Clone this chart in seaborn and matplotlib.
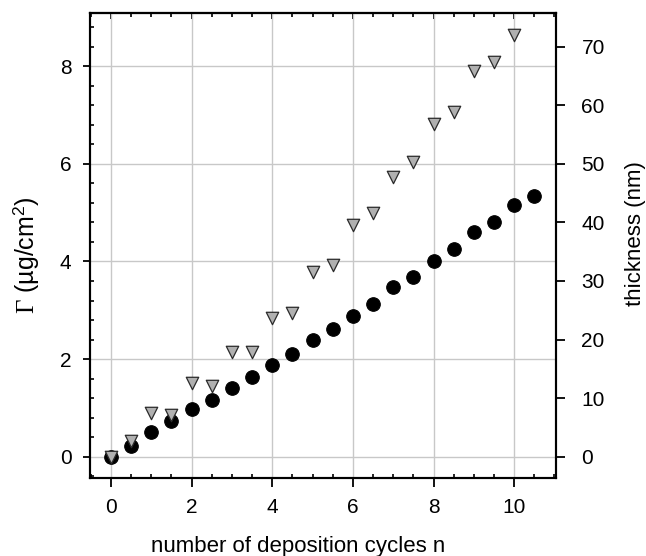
import matplotlib
matplotlib.use("Agg")
import matplotlib.pyplot as plt
from matplotlib.ticker import MultipleLocator
import seaborn as sns
import pandas as pd

# ---- data ----
cycles_mass = [0, 0.5, 1, 1.5, 2, 2.5, 3, 3.5, 4, 4.5, 5, 5.5, 6, 6.5, 7, 7.5,
               8, 8.5, 9, 9.5, 10, 10.5]
gamma = [0, 0.22, 0.50, 0.73, 0.97, 1.17, 1.41, 1.64, 1.88, 2.11, 2.39, 2.61,
         2.89, 3.12, 3.48, 3.69, 4.01, 4.25, 4.60, 4.80, 5.16, 5.35]

cycles_thick = [0, 0.5, 1, 1.5, 2, 2.5, 3, 3.5, 4, 4.5, 5, 5.5, 6, 6.5, 7, 7.5,
                8, 8.5, 9, 9.5, 10]
thickness = [0, 2.6, 7.5, 7.2, 12.5, 12.0, 17.9, 17.9, 23.7, 24.5, 31.5, 32.7,
             39.6, 41.6, 47.8, 50.4, 56.8, 58.8, 65.9, 67.4, 72.0]

x_ticks = [0, 2, 4, 6, 8, 10]
left_ticks = [0, 2, 4, 6, 8]
right_ticks = [0, 10, 20, 30, 40, 50, 60, 70]

xlabel = "number of deposition cycles n"
ylabel_left = r"$\mathrm{\Gamma}$ (µg/cm$^{\mathsf{2}}$)"
ylabel_right = "thickness (nm)"

df_mass = pd.DataFrame({"n": cycles_mass, "gamma": gamma})
df_thick = pd.DataFrame({"n": cycles_thick, "thickness": thickness})

sns.set_style("ticks")
plt.rcParams["font.family"] = ["Liberation Sans", "DejaVu Sans"]
plt.rcParams["mathtext.fontset"] = "custom"
plt.rcParams["mathtext.rm"] = "Liberation Serif"
plt.rcParams["mathtext.sf"] = "Liberation Sans"
plt.rcParams["mathtext.it"] = "Liberation Serif:italic"
for key in ["text.color", "axes.labelcolor", "xtick.color", "ytick.color",
            "axes.edgecolor"]:
    plt.rcParams[key] = "black"

fig = plt.figure(figsize=(6.46, 5.56), dpi=100)
ax = fig.add_axes([0.1393, 0.1403, 0.7209, 0.8363])

sns.scatterplot(data=df_mass, x="n", y="gamma", ax=ax, color="black",
                marker="o", s=95, edgecolor="black", linewidth=0.8, zorder=3)

ax.set_xlim(-0.52, 11.03)
ax.set_ylim(-0.436, 9.09)
ax.set_xticks(x_ticks)
ax.set_yticks(left_ticks)
ax.xaxis.set_minor_locator(MultipleLocator(0.5))
ax.yaxis.set_minor_locator(MultipleLocator(0.4))
ax.grid(True, which="major", color="#c8c8c8", linewidth=1.0)
ax.set_axisbelow(True)

ax.tick_params(axis="x", which="major", direction="out", length=6.3, width=1.3,
               labelsize=15, pad=8, top=False)
ax.tick_params(axis="x", which="minor", direction="in", length=3, width=1.2,
               top=False)
ax.tick_params(axis="y", which="major", direction="out", length=5.3, width=1.3,
               labelsize=15, pad=8, right=False)
ax.tick_params(axis="y", which="minor", direction="in", length=3, width=1.2,
               right=False)
for sp in ax.spines.values():
    sp.set_linewidth(1.5)

ax.set_xlabel(xlabel, fontsize=16)
ax.xaxis.set_label_coords(0.447, -0.125)
ax.set_ylabel(ylabel_left, fontsize=18)
ax.yaxis.set_label_coords(-0.105, 0.48)

# top ticks (inward)
sec = ax.secondary_xaxis("top")
sec.set_xticks(x_ticks)
sec.xaxis.set_minor_locator(MultipleLocator(0.5))
sec.tick_params(axis="x", which="major", direction="in", length=4.5, width=1.3,
                labeltop=False)
sec.tick_params(axis="x", which="minor", direction="in", length=3, width=1.2)
sec.spines["top"].set_linewidth(1.5)

# right axis: thickness
ax2 = ax.twinx()
sns.scatterplot(data=df_thick, x="n", y="thickness", ax=ax2, color="#b0b0b0",
                marker="v", s=80, edgecolor="#2a2a2a", linewidth=0.9, zorder=4)
ax2.set_ylim(-3.64, 75.76)
ax2.set_yticks(right_ticks)
ax2.tick_params(axis="y", which="major", direction="out", length=6.5, width=1.3,
                labelsize=15, pad=12)
ax2.tick_params(axis="y", which="minor", right=False)
for sp in ax2.spines.values():
    sp.set_linewidth(1.5)
ax2.set_ylabel(ylabel_right, fontsize=16, rotation=90)
ax2.yaxis.set_label_coords(1.148, 0.525)
ax2.set_xlabel("")

fig.savefig("out.png", dpi=100)
